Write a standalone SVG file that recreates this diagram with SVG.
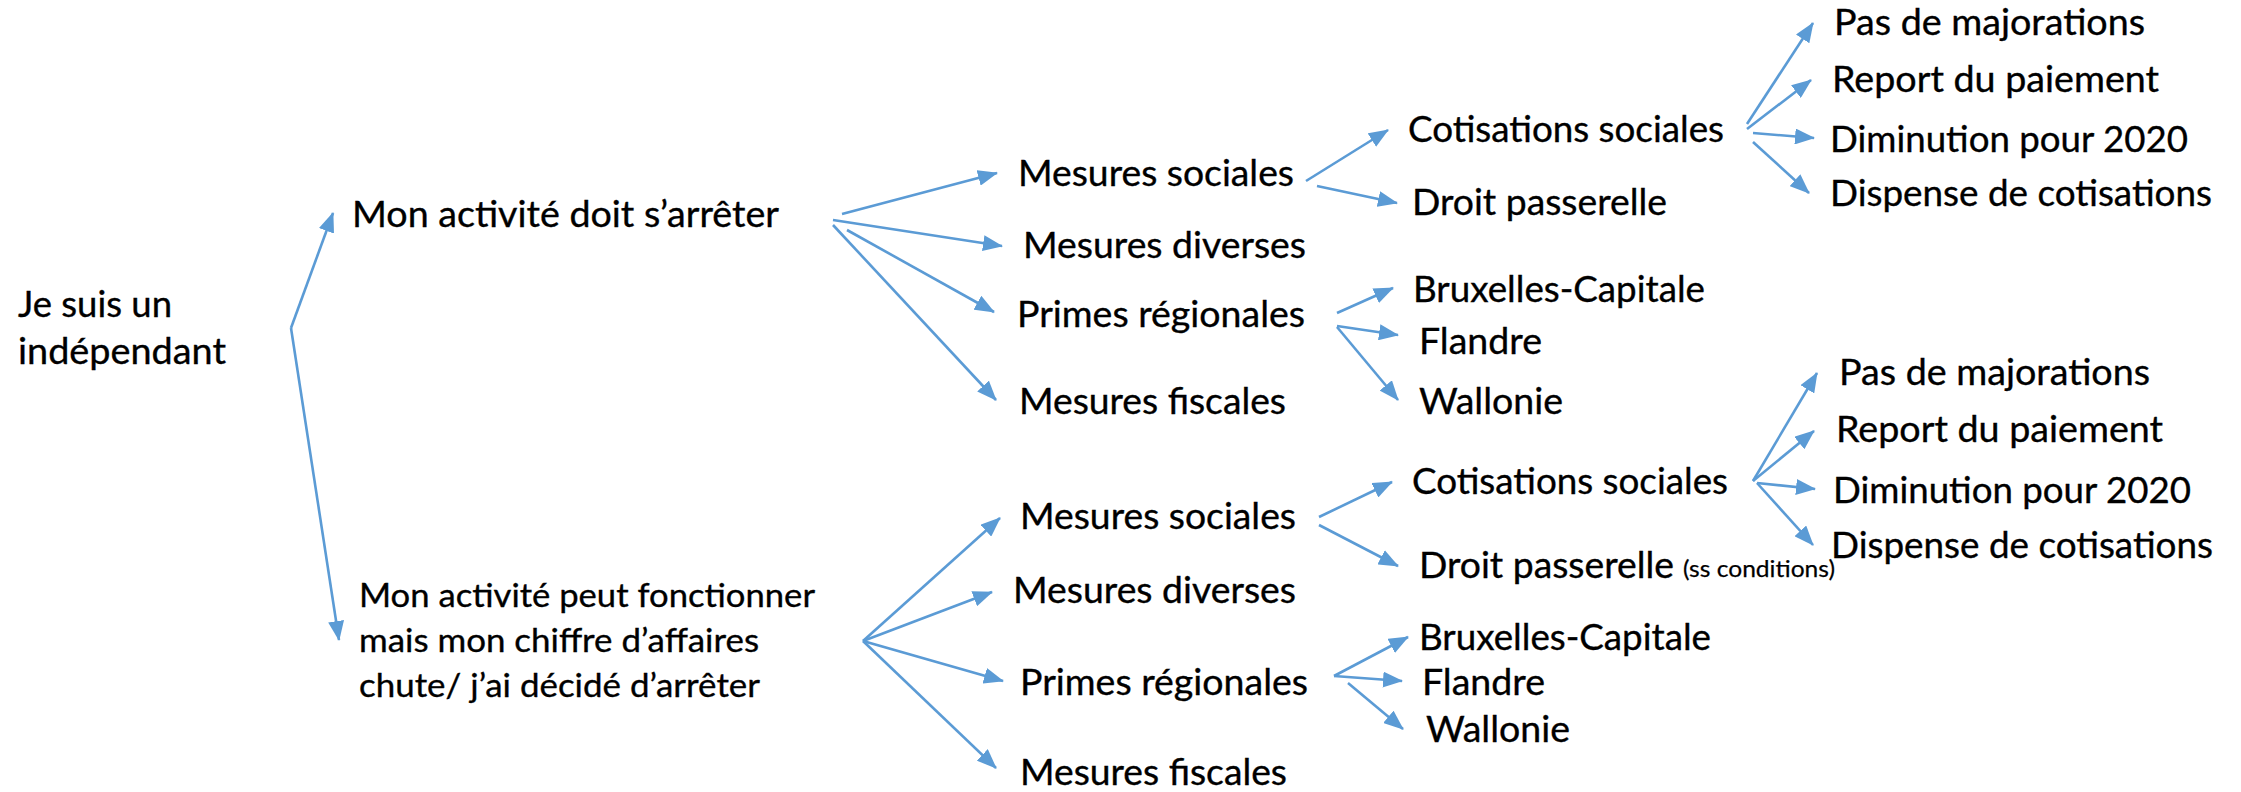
<svg xmlns="http://www.w3.org/2000/svg" width="2241" height="792" viewBox="0 0 2241 792">
<style>
text{font-family:Lato,"Open Sans","Liberation Sans",sans-serif;fill:#000;stroke:#000;stroke-width:0.35;font-size:36px}
.s{font-size:33.5px}
.xs{font-size:24px;stroke-width:0.25}
.c line{stroke:#5B9BD5;stroke-width:2.6;fill:none;marker-end:url(#ah)}
</style>
<defs>
<marker id="ah" markerUnits="userSpaceOnUse" markerWidth="20" markerHeight="16" refX="19" refY="8" orient="auto" viewBox="0 0 20 16">
<path d="M0,0 L20,8 L0,16 Z" fill="#5B9BD5"/>
</marker>
</defs>
<rect width="2241" height="792" fill="#fff"/>
<g id="connectors" class="c">
<line x1="291" y1="328" x2="333" y2="213"/>
<line x1="291" y1="328" x2="339" y2="640"/>
<line x1="842" y1="214" x2="997" y2="173"/>
<line x1="833" y1="220" x2="1002" y2="246"/>
<line x1="847" y1="230" x2="994" y2="312"/>
<line x1="833" y1="225" x2="996" y2="400"/>
<line x1="863" y1="641" x2="1000" y2="518"/>
<line x1="863" y1="641" x2="992" y2="592"/>
<line x1="863" y1="641" x2="1003" y2="681"/>
<line x1="863" y1="641" x2="996" y2="768"/>
<line x1="1306" y1="181" x2="1388" y2="130"/>
<line x1="1317" y1="186" x2="1397" y2="203"/>
<line x1="1337" y1="313" x2="1393" y2="288"/>
<line x1="1337" y1="326" x2="1398" y2="335"/>
<line x1="1337" y1="327" x2="1398" y2="400"/>
<line x1="1747" y1="124" x2="1813" y2="23"/>
<line x1="1747" y1="129" x2="1811" y2="80"/>
<line x1="1753" y1="133" x2="1814" y2="138"/>
<line x1="1753" y1="142" x2="1809" y2="193"/>
<line x1="1319" y1="517" x2="1392" y2="482"/>
<line x1="1319" y1="525" x2="1398" y2="566"/>
<line x1="1334" y1="676" x2="1408" y2="637"/>
<line x1="1334" y1="676" x2="1402" y2="681"/>
<line x1="1348" y1="683" x2="1403" y2="729"/>
<line x1="1753" y1="481" x2="1817" y2="373"/>
<line x1="1753" y1="481" x2="1814" y2="431"/>
<line x1="1757" y1="483" x2="1815" y2="489"/>
<line x1="1757" y1="483" x2="1813" y2="545"/>
</g>
<g id="root"><text x="18" y="317" textLength="154" lengthAdjust="spacingAndGlyphs">Je suis un</text><text x="18" y="364" textLength="208" lengthAdjust="spacingAndGlyphs">indépendant</text></g>
<g id="arret"><text x="352" y="227" textLength="427" lengthAdjust="spacingAndGlyphs">Mon activité doit s’arrêter</text></g>
<g id="fonctionne"><text class="s" x="359" y="607" textLength="456" lengthAdjust="spacingAndGlyphs">Mon activité peut fonctionner</text><text class="s" x="359" y="652" textLength="400" lengthAdjust="spacingAndGlyphs">mais mon chiffre d’affaires</text><text class="s" x="359" y="697" textLength="401" lengthAdjust="spacingAndGlyphs">chute/ j’ai décidé d’arrêter</text></g>
<g id="ms1"><text x="1018" y="186" textLength="276" lengthAdjust="spacingAndGlyphs">Mesures sociales</text></g>
<g id="md1"><text x="1023" y="258" textLength="283" lengthAdjust="spacingAndGlyphs">Mesures diverses</text></g>
<g id="pr1"><text x="1017" y="327" textLength="288" lengthAdjust="spacingAndGlyphs">Primes régionales</text></g>
<g id="mf1"><text x="1019" y="414" textLength="267" lengthAdjust="spacingAndGlyphs">Mesures fiscales</text></g>
<g id="cs1"><text x="1408" y="142" textLength="316" lengthAdjust="spacingAndGlyphs">Cotisations sociales</text></g>
<g id="dp1"><text x="1412" y="215" textLength="255" lengthAdjust="spacingAndGlyphs">Droit passerelle</text></g>
<g id="bc1"><text x="1413" y="302" textLength="292" lengthAdjust="spacingAndGlyphs">Bruxelles-Capitale</text></g>
<g id="fl1"><text x="1419" y="354" textLength="123" lengthAdjust="spacingAndGlyphs">Flandre</text></g>
<g id="wa1"><text x="1419" y="414" textLength="144" lengthAdjust="spacingAndGlyphs">Wallonie</text></g>
<g id="pm1"><text x="1834" y="35" textLength="311" lengthAdjust="spacingAndGlyphs">Pas de majorations</text></g>
<g id="rp1"><text x="1832" y="92" textLength="327" lengthAdjust="spacingAndGlyphs">Report du paiement</text></g>
<g id="di1"><text x="1830" y="152" textLength="358" lengthAdjust="spacingAndGlyphs">Diminution pour 2020</text></g>
<g id="dc1"><text x="1830" y="206" textLength="382" lengthAdjust="spacingAndGlyphs">Dispense de cotisations</text></g>
<g id="ms2"><text x="1020" y="529" textLength="276" lengthAdjust="spacingAndGlyphs">Mesures sociales</text></g>
<g id="md2"><text x="1013" y="603" textLength="283" lengthAdjust="spacingAndGlyphs">Mesures diverses</text></g>
<g id="pr2"><text x="1020" y="695" textLength="288" lengthAdjust="spacingAndGlyphs">Primes régionales</text></g>
<g id="mf2"><text x="1020" y="785" textLength="267" lengthAdjust="spacingAndGlyphs">Mesures fiscales</text></g>
<g id="cs2"><text x="1412" y="494" textLength="316" lengthAdjust="spacingAndGlyphs">Cotisations sociales</text></g>
<g id="dp2"><text x="1419" y="578" textLength="255" lengthAdjust="spacingAndGlyphs">Droit passerelle</text><text class="xs" x="1683" y="577" textLength="152" lengthAdjust="spacingAndGlyphs">(ss conditions)</text></g>
<g id="bc2"><text x="1419" y="650" textLength="292" lengthAdjust="spacingAndGlyphs">Bruxelles-Capitale</text></g>
<g id="fl2"><text x="1422" y="695" textLength="123" lengthAdjust="spacingAndGlyphs">Flandre</text></g>
<g id="wa2"><text x="1426" y="742" textLength="144" lengthAdjust="spacingAndGlyphs">Wallonie</text></g>
<g id="pm2"><text x="1839" y="385" textLength="311" lengthAdjust="spacingAndGlyphs">Pas de majorations</text></g>
<g id="rp2"><text x="1836" y="442" textLength="327" lengthAdjust="spacingAndGlyphs">Report du paiement</text></g>
<g id="di2"><text x="1833" y="503" textLength="358" lengthAdjust="spacingAndGlyphs">Diminution pour 2020</text></g>
<g id="dc2"><text x="1831" y="558" textLength="382" lengthAdjust="spacingAndGlyphs">Dispense de cotisations</text></g>
</svg>
